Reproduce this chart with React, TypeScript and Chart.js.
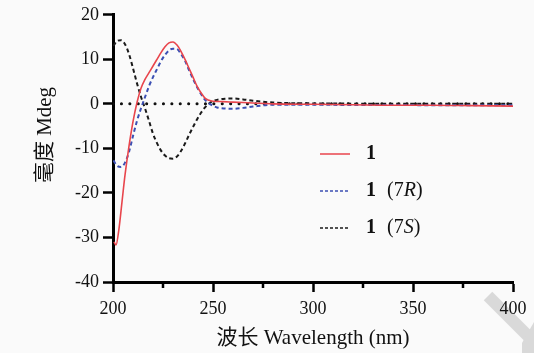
import React, { useEffect, useRef } from "react";
import { Chart, registerables } from "chart.js";

Chart.register(...registerables);

const wavelengthsMain = [200.5, 201.5, 203, 204.5, 206, 208, 210, 212, 214, 216, 218, 220, 222, 224, 226, 228, 230, 232, 234, 236, 238, 240, 242, 244, 246, 248, 250, 255, 260, 270, 280, 300, 320, 340, 360, 380, 400];
const cd1 = [-31, -31.7, -28, -22, -16, -9.5, -4, 0.3, 3.5, 5.5, 7, 8.5, 10, 11.5, 12.8, 13.7, 13.9, 13.2, 11.8, 10, 8, 6, 4, 2.5, 1.3, 0.8, 0.6, 0.5, 0.4, 0.2, 0.0, -0.1, -0.2, -0.3, -0.3, -0.4, -0.5];

const wavelengthsCalc = [200.2, 202, 204, 206, 208, 210, 212, 214, 216, 218, 220, 222, 224, 226, 228, 230, 232, 234, 236, 238, 240, 242, 244, 246, 248, 250, 252, 256, 260, 265, 270, 280, 300, 320, 340, 360, 380, 400];
const cd7R = [-12.7, -13.9, -14.2, -13.2, -10.8, -7.2, -3.8, -1.0, 1.5, 4.0, 6.0, 7.8, 9.6, 11.0, 12.0, 12.4, 12.3, 11.2, 9.7, 7.6, 5.6, 3.8, 2.2, 0.9, 0.1, -0.4, -0.8, -1.05, -1.1, -0.9, -0.6, -0.2, -0.2, -0.25, -0.25, -0.3, -0.3, -0.3];
const cd7S = [13.0, 14.1, 14.3, 13.4, 11.2, 8.0, 4.6, 1.6, -1.0, -3.8, -6.7, -8.8, -10.5, -11.6, -12.2, -12.3, -11.8, -10.6, -8.9, -7.0, -5.2, -3.5, -2.0, -0.8, 0.1, 0.6, 0.9, 1.15, 1.2, 1.0, 0.7, 0.3, 0.1, 0.05, 0.0, 0.0, 0.0, 0.0];

const zeroLine = [200, 400];
const xMajorTicks = [200, 250, 300, 350, 400];
const xMinorTicks = [225, 275, 325, 375];
const yTicks = [-40, -30, -20, -10, 0, 10, 20];

const xTitle = "波长 Wavelength (nm)";
const yTitle = "毫度 Mdeg";
const legendItems = [
  { bold: "1", pre: "", ital: "", post: "", color: "#e8454c", dash: [] as number[] },
  { bold: "1", pre: "(7", ital: "R", post: ")", color: "#3b4fb3", dash: [3, 2] },
  { bold: "1", pre: "(7", ital: "S", post: ")", color: "#1a1a1a", dash: [3, 2] },
];

const SERIF = "'Liberation Serif', 'Noto Sans CJK SC', serif";

const toPts = (xs: number[], ys: number[]) => xs.map((x, i) => ({ x, y: ys[i] }));

export default function App() {
  const ref = useRef<HTMLCanvasElement | null>(null);

  useEffect(() => {
    if (!ref.current) return;

    const decor = {
      id: "decor",
      beforeDraw(chart: any) {
        const ctx = chart.ctx;
        ctx.save();
        ctx.strokeStyle = "#d9d9d9";
        ctx.lineWidth = 12;
        ctx.lineCap = "butt";
        ctx.beginPath();
        ctx.moveTo(488, 296);
        ctx.lineTo(530, 338);
        ctx.stroke();
        ctx.fillStyle = "#d9d9d9";
        ctx.beginPath();
        ctx.moveTo(534, 322);
        ctx.lineTo(534, 353);
        ctx.lineTo(522, 353);
        ctx.lineTo(522, 343);
        ctx.closePath();
        ctx.fill();
        ctx.restore();
      },
      afterDraw(chart: any) {
        const ctx = chart.ctx;
        const xs = chart.scales.x;
        const ca = chart.chartArea;
        ctx.save();
        ctx.strokeStyle = "#000";
        ctx.lineWidth = 2.5;
        xMinorTicks.forEach((v) => {
          const px = xs.getPixelForValue(v);
          ctx.beginPath();
          ctx.moveTo(px, ca.bottom);
          ctx.lineTo(px, ca.bottom + 6);
          ctx.stroke();
        });
        ctx.fillStyle = "#111";
        ctx.font = `21px ${SERIF}`;
        ctx.textAlign = "center";
        ctx.textBaseline = "middle";
        ctx.fillText(xTitle, (ca.left + ca.right) / 2, 338);
        ctx.save();
        ctx.translate(45, 135);
        ctx.rotate(-Math.PI / 2);
        ctx.fillText(yTitle, 0, 0);
        ctx.restore();
        const rows = [154, 191, 228];
        legendItems.forEach((it, i) => {
          const y = rows[i];
          ctx.strokeStyle = it.color;
          ctx.lineWidth = 1.5;
          ctx.setLineDash(it.dash);
          ctx.beginPath();
          ctx.moveTo(320, y);
          ctx.lineTo(350, y);
          ctx.stroke();
          ctx.setLineDash([]);
          ctx.textAlign = "left";
          ctx.textBaseline = "middle";
          ctx.fillStyle = "#111";
          let x = 366;
          ctx.font = `bold 20px ${SERIF}`;
          ctx.fillText(it.bold, x, y);
          x += ctx.measureText(it.bold).width + 11;
          ctx.font = `20px ${SERIF}`;
          if (it.pre) {
            ctx.fillText(it.pre, x, y);
            x += ctx.measureText(it.pre).width;
          }
          ctx.font = `italic 20px ${SERIF}`;
          if (it.ital) {
            ctx.fillText(it.ital, x, y);
            x += ctx.measureText(it.ital).width;
          }
          ctx.font = `20px ${SERIF}`;
          if (it.post) ctx.fillText(it.post, x, y);
        });
        ctx.restore();
      },
    };

    const chart = new Chart(ref.current, {
      type: "line",
      data: {
        datasets: [
          {
            label: "1",
            data: toPts(wavelengthsMain, cd1),
            borderColor: "#e8454c",
            borderWidth: 1.6,
            pointRadius: 0,
            cubicInterpolationMode: "monotone",
            fill: false,
          },
          {
            label: "1 (7R)",
            data: toPts(wavelengthsCalc, cd7R),
            borderColor: "#3b4fb3",
            borderWidth: 2,
            borderDash: [4, 3],
            pointRadius: 0,
            cubicInterpolationMode: "monotone",
            fill: false,
          },
          {
            label: "1 (7S)",
            data: toPts(wavelengthsCalc, cd7S),
            borderColor: "#1a1a1a",
            borderWidth: 2,
            borderDash: [4, 3],
            pointRadius: 0,
            cubicInterpolationMode: "monotone",
            fill: false,
          },
          {
            label: "zero",
            data: zeroLine.map((x) => ({ x, y: 0 })),
            borderColor: "#111",
            borderWidth: 3,
            borderDash: [0.1, 8.3],
            borderCapStyle: "round",
            pointRadius: 0,
            fill: false,
          },
        ],
      },
      options: {
        animation: false,
        responsive: true,
        maintainAspectRatio: false,
        layout: { padding: { top: 14, right: 21, left: 0, bottom: 0 } },
        plugins: { legend: { display: false }, tooltip: { enabled: false } },
        scales: {
          x: {
            type: "linear",
            min: 200,
            max: 400,
            afterBuildTicks: (s: any) => {
              s.ticks = xMajorTicks.map((v) => ({ value: v }));
            },
            ticks: { color: "#111", font: { family: SERIF, size: 18 }, padding: 6, maxRotation: 0 },
            grid: { drawOnChartArea: false, drawTicks: true, tickLength: 10, tickColor: "#000", tickWidth: 2.5 },
            border: { display: true, color: "#000", width: 3 },
            afterFit: (s: any) => {
              s.height = 71;
            },
          },
          y: {
            type: "linear",
            min: -40,
            max: 20,
            afterBuildTicks: (s: any) => {
              s.ticks = yTicks.map((v) => ({ value: v }));
            },
            ticks: { color: "#111", font: { family: SERIF, size: 18 }, padding: 4 },
            grid: { drawOnChartArea: false, drawTicks: true, tickLength: 10, tickColor: "#000", tickWidth: 2.5 },
            border: { display: true, color: "#000", width: 3 },
            afterFit: (s: any) => {
              s.width = 113;
            },
          },
        },
      },
      plugins: [decor],
    } as any);

    return () => chart.destroy();
  }, []);

  return (
    <div style={{ position: "absolute", left: 0, top: 0, width: 534, height: 353, background: "#fafafa" }}>
      <canvas ref={ref} />
    </div>
  );
}
